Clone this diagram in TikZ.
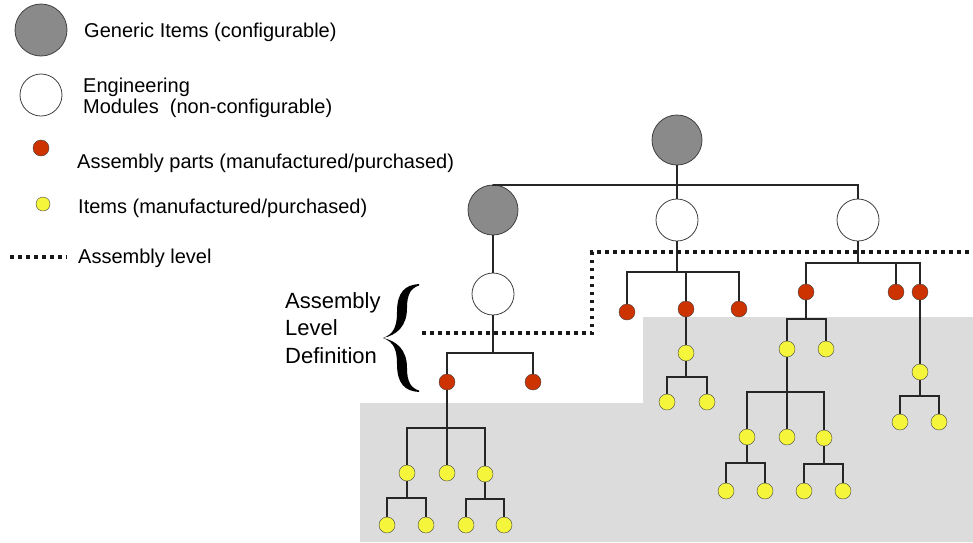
\documentclass[tikz,border=0pt]{standalone}
\usepackage{fontspec}
\setmainfont{Liberation Sans}

\definecolor{genericgray}{RGB}{138,138,138}
\definecolor{partred}{RGB}{204,51,0}
\definecolor{itemyellow}{RGB}{245,245,60}
\definecolor{areagray}{RGB}{220,220,220}

\begin{document}
\begin{tikzpicture}
	[
	x=1pt, y=-1pt,
	generic/.style={circle,draw=black!75,thick,fill=genericgray,minimum size=50pt,inner sep=0pt},
	module/.style={circle,draw=black!75,thick,fill=white,minimum size=42pt,inner sep=0pt},
	part/.style={circle,draw=black!75,fill=partred,minimum size=16pt,inner sep=0pt},
	item/.style={circle,draw=black!75,fill=itemyellow,minimum size=16pt,inner sep=0pt},
	link/.style={draw=black!85,line width=1.4pt},
	branch/.style={to path={(\tikztostart) |- (\tikztotarget |- 0,#1) -- (\tikztotarget)}},
	levelline/.style={line width=3.5pt,dash pattern=on 3.5pt off 4.5pt,black!90},
	legend/.style={anchor=base west,inner sep=0pt,font=\fontsize{20}{21}\selectfont,align=left},
	]
	\useasboundingbox (0,0) rectangle (973,542);
	\fill[areagray] (360,403) -- (643,403) -- (643,317) -- (973,317) -- (973,542) -- (360,542) -- cycle;

	\node[generic,minimum size=52pt] (keyGeneric) at (41,30) {};
	\node[module] (keyModule) at (41,95) {};
	\node[part] (keyPart) at (41,148) {};
	\node[item,minimum size=14pt] (keyItem) at (43,204) {};
	\coordinate (keyLevelA) at (10,257);
	\coordinate (keyLevelB) at (67,257);
	\draw[levelline] (keyLevelA) -- (keyLevelB);
	\node[legend] (txtGeneric) at (84,37) {Generic Items (configurable)};
	\node[legend] (txtModule) at (83,113) {Engineering\\Modules\ \ (non-configurable)};
	\node[legend] (txtPart) at (77,168) {Assembly parts (manufactured/purchased)};
	\node[legend] (txtItem) at (78,213) {Items (manufactured/purchased)};
	\node[legend] (txtLevel) at (78,263) {Assembly level};

	\node[generic] (root) at (677,140) {};
	\node[generic] (genL) at (493,210) {};
	\node[module] (modL) at (493,294) {};
	\node[module] (modM) at (677,220) {};
	\node[module] (modR) at (858,220) {};
	\node[part] (partL1) at (447,382) {};
	\node[part] (partL2) at (533,382) {};
	\node[part] (partM1) at (627,312) {};
	\node[part] (partM2) at (686,309) {};
	\node[part] (partM3) at (739,309) {};
	\node[part] (partR1) at (806,292) {};
	\node[part] (partR2) at (896,292) {};
	\node[part] (partR3) at (920,292) {};
	\node[item] (itemL1) at (407,473) {};
	\node[item] (itemL2) at (447,473) {};
	\node[item] (itemL3) at (485,474) {};
	\node[item] (itemL11) at (387,525) {};
	\node[item] (itemL12) at (426,525) {};
	\node[item] (itemL31) at (466,525) {};
	\node[item] (itemL32) at (504,525) {};
	\node[item] (itemM) at (686,353) {};
	\node[item] (itemM1) at (667,402) {};
	\node[item] (itemM2) at (707,402) {};
	\node[item] (itemR1) at (787,349) {};
	\node[item] (itemR2) at (826,349) {};
	\node[item] (itemR11) at (747,437) {};
	\node[item] (itemR12) at (787,437) {};
	\node[item] (itemR13) at (824,438) {};
	\node[item] (itemR111) at (726,491) {};
	\node[item] (itemR112) at (765,491) {};
	\node[item] (itemR131) at (804,491) {};
	\node[item] (itemR132) at (843,491) {};
	\node[item] (itemR3) at (920,372) {};
	\node[item] (itemR31) at (900,422) {};
	\node[item] (itemR32) at (939,422) {};

	\draw[link] (root) to[branch=185] (genL) (root) to[branch=185] (modM) (root) to[branch=185] (modR);
	\draw[link] (genL) -- (modL);
	\draw[link] (modL) to[branch=353] (partL1) (modL) to[branch=353] (partL2);
	\draw[link] (modM) to[branch=272] (partM1) (modM) to[branch=272] (partM2) (modM) to[branch=272] (partM3);
	\draw[link] (modR) to[branch=263] (partR1) (modR) to[branch=263] (partR2) (modR) to[branch=263] (partR3);
	\draw[link] (partL1) to[branch=428] (itemL1) (partL1) -- (itemL2) (partL1) to[branch=428] (itemL3);
	\draw[link] (itemL1) to[branch=498] (itemL11) (itemL1) to[branch=498] (itemL12);
	\draw[link] (itemL3) to[branch=499] (itemL31) (itemL3) to[branch=499] (itemL32);
	\draw[link] (partM2) -- (itemM);
	\draw[link] (itemM) to[branch=377] (itemM1) (itemM) to[branch=377] (itemM2);
	\draw[link] (partR1) to[branch=319] (itemR1) (partR1) to[branch=319] (itemR2);
	\draw[link] (itemR1) to[branch=392] (itemR11) (itemR1) -- (itemR12) (itemR1) to[branch=392] (itemR13);
	\draw[link] (itemR11) to[branch=463] (itemR111) (itemR11) to[branch=463] (itemR112);
	\draw[link] (itemR13) to[branch=464] (itemR131) (itemR13) to[branch=464] (itemR132);
	\draw[link] (partR3) -- (itemR3);
	\draw[link] (itemR3) to[branch=396] (itemR31) (itemR3) to[branch=396] (itemR32);

	\coordinate (levelStart) at (422,333);
	\coordinate (levelBend) at (592,252);
	\coordinate (levelEnd) at (973,252);
	\draw[levelline] (levelStart) -| (levelBend) -- (levelEnd);

	\coordinate (braceTip) at (383,338);
	\foreach \s in {1,-1}
		\fill[shift={(braceTip)},yscale=\s] (0,0) .. controls (11,-4) and (14,-12) .. (14,-26)
			.. controls (14,-46) and (22,-53) .. (36,-54) -- (36,-52.5)
			.. controls (28,-50) and (24,-44) .. (24,-30)
			.. controls (24,-12) and (14,-3) .. (0,0) -- cycle;
	\node[legend,font=\fontsize{22}{27.5}\selectfont] (txtDefinition) at (285,363) {Assembly\\Level\\Definition};
\end{tikzpicture}
\end{document}
